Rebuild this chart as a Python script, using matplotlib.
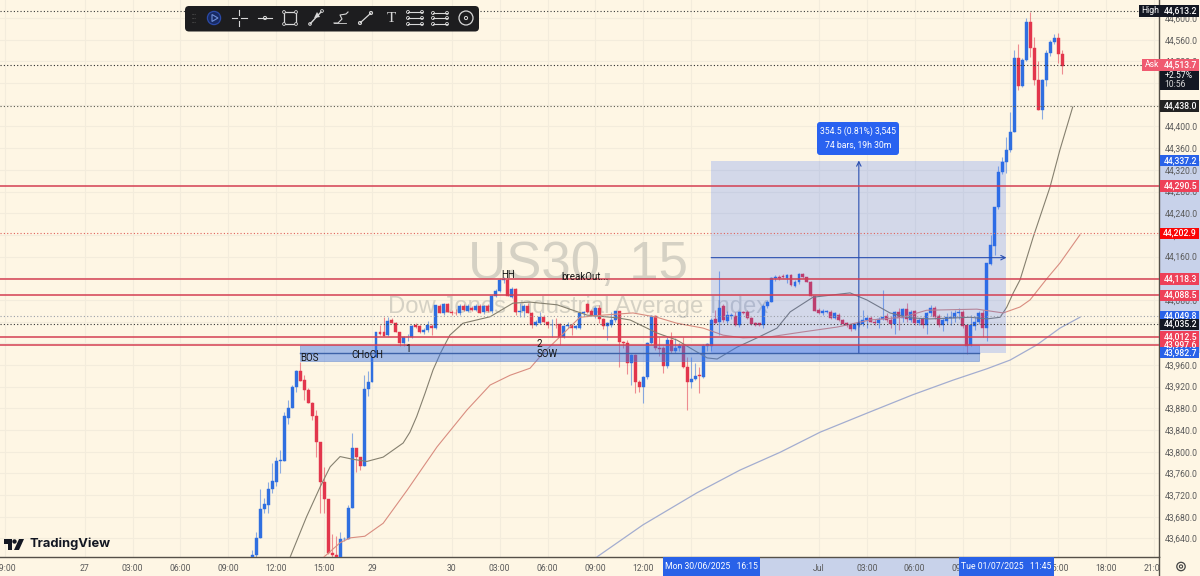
import numpy as np
import matplotlib
matplotlib.use("Agg")
import matplotlib.pyplot as plt
from matplotlib.patches import Rectangle, FancyBboxPatch, Circle, Polygon

plt.rcParams['font.family'] = ['Roboto', 'DejaVu Sans']

opens = [43603,43609,43641,43694,43702,43731,43745,43782,43783,43863,43880,43919,43948,43932,43914,43890,43866,43817,43745,43712,
         43614,43609,43603,43638,43638,43697,43806,43790,43774,43915,43928,43975,44021,44020,44015,44043,44037,44021,44001,44011,
         44011,44033,44032,44021,44024,44032,44028,44069,44055,44072,44058,44056,44055,44069,44060,44066,44061,44069,44058,44069,
         44060,44087,44097,44117,44117,44086,44101,44058,44060,44069,44056,44034,44038,44049,44039,44033,44034,44035,44011,44032,
         44033,44029,44029,44055,44072,44060,44050,44066,44044,44032,44034,44043,44060,44003,44000,43963,43978,43929,43920,43938,
         44000,44050,43992,43991,43958,44006,43985,43992,43995,43957,43929,43934,43941,43938,43995,43995,44044,44040,44068,44042,
         44050,44051,44033,44058,44058,44046,44037,44037,44034,44068,44077,44120,44123,44124,44120,44126,44106,44114,44127,44122,
         44114,44087,44061,44055,44058,44058,44046,44053,44043,44037,44034,44026,44034,44036,44043,44046,44040,44037,44045,44050,
         44043,44036,44058,44047,44063,44043,44060,44037,44044,44034,44055,44066,44050,44033,44041,44047,44047,44055,44058,44033,
         43997,44032,44040,44056,44028,44147,44180,44251,44316,44335,44356,44390,44526,44475,44523,44592,44544,44486,44430,44485,
         44535,44555,44563,44533]
highs = [43619,43652,43732,43714,43745,43779,43791,43803,43874,43895,43923,43951,43966,43941,43917,43892,43877,43817,43772,43713,
         43649,43644,43652,43642,43702,43835,43806,43791,43941,43948,43978,44021,44034,44048,44048,44046,44040,44021,44013,44018,
         44034,44037,44034,44028,44042,44036,44071,44072,44074,44075,44062,44064,44072,44072,44072,44069,44072,44073,44070,44073,
         44090,44100,44120,44122,44121,44103,44102,44074,44072,44074,44058,44043,44058,44052,44041,44044,44046,44038,44033,44040,
         44033,44034,44058,44060,44075,44063,44068,44070,44046,44040,44058,44060,44060,44005,44006,43980,43980,43932,43940,44002,
         44053,44053,44012,43995,44012,44020,44009,44000,44012,43975,43975,43963,43957,43998,44000,44046,44061,44134,44072,44060,
         44056,44058,44060,44060,44061,44048,44040,44038,44072,44080,44122,44126,44126,44128,44128,44128,44116,44130,44129,44123,
         44115,44088,44065,44063,44062,44061,44058,44055,44045,44039,44036,44036,44042,44061,44052,44050,44044,44048,44098,44056,
         44050,44060,44066,44066,44074,44062,44062,44046,44048,44058,44070,44068,44054,44047,44055,44060,44062,44066,44062,44033,
         44052,44050,44060,44061,44148,44200,44252,44328,44344,44380,44427,44541,44552,44526,44600,44612,44566,44520,44488,44541,
         44560,44570,44572,44541]
lows = [43603,43606,43641,43686,43686,43723,43736,43760,43782,43852,43880,43911,43931,43895,43889,43858,43791,43686,43686,43612,
        43605,43603,43603,43636,43638,43697,43763,43766,43774,43902,43928,43975,44015,44013,44013,44037,44021,43995,43995,44005,
        44009,44028,44019,44018,44020,44015,44026,44055,44053,44058,44052,44052,44052,44060,44058,44060,44059,44055,44054,44058,
        44055,44085,44095,44112,44087,44084,44052,44049,44049,44055,44029,44032,44036,44038,44028,44011,44028,43997,44009,44028,
        44015,44027,44027,44050,44056,44052,44047,44037,44026,44007,44030,44040,43956,43991,43943,43923,43909,43911,43889,43935,
        43998,43988,43977,43946,43955,43982,43983,43985,43955,43877,43917,43932,43908,43936,43985,43985,44035,44015,44040,44038,
        44045,44031,44030,44054,44045,44034,44032,44032,44028,44066,44076,44115,44116,44120,44112,44106,44104,44110,44120,44113,
        44087,44060,44054,44053,44055,44045,44044,44041,44035,44030,44023,44024,44030,44031,44029,44039,44033,44028,44043,44040,
        44028,44018,44025,44040,44040,44040,44034,44033,44029,44017,44050,44045,44030,44023,44035,44034,44040,44045,44029,43981,
        43995,44025,44036,44012,44005,44145,44163,44248,44313,44314,44353,44389,44467,44472,44520,44529,44477,44430,44413,44474,
        44530,44553,44517,44496]
closes = [43609,43641,43694,43703,43732,43746,43782,43785,43865,43880,43920,43948,43931,43913,43889,43865,43817,43745,43712,43614,
          43609,43603,43638,43639,43697,43806,43790,43774,43915,43928,43975,44021,44017,44013,44042,44037,44021,44001,44011,44012,
          44031,44030,44021,44024,44034,44028,44071,44055,44072,44058,44056,44055,44069,44061,44068,44062,44068,44056,44068,44060,
          44087,44097,44117,44118,44087,44101,44058,44060,44068,44056,44034,44040,44049,44039,44033,44034,44033,44011,44031,44033,
          44028,44031,44055,44057,44058,44052,44066,44044,44032,44038,44043,44060,44003,44000,43964,43978,43929,43920,43938,44000,
          44050,43991,43989,43958,44006,43985,43991,43995,43957,43929,43934,43940,43939,43995,43998,44043,44038,44066,44043,44052,
          44052,44033,44058,44056,44046,44035,44034,44034,44068,44077,44120,44123,44120,44122,44126,44108,44114,44127,44122,44114,
          44087,44060,44056,44060,44059,44046,44055,44043,44036,44033,44026,44035,44038,44043,44046,44040,44037,44045,44049,44043,
          44036,44058,44047,44063,44044,44058,44037,44043,44033,44055,44066,44049,44033,44043,44048,44049,44055,44058,44031,43995,
          44033,44040,44056,44028,44148,44181,44251,44316,44335,44357,44390,44526,44475,44523,44592,44544,44486,44430,44486,44536,
          44555,44563,44533,44512]

ma_mid_bars = [9.4,13.6,17,19.5,22,25.2,28.7,32.8,37.8,39.5,41.2,43.3,45.3,47.3,49.5,52.8,59.6,65.3,69.6,76.4,83.9,91.4,94.7,101.4,106.4,110.5,114,116.5,
               121.5,126.5,131.5,134.8,140.5,149.8,154,159.8,164.8,169.8,179.9,184.1,187.4,189.1,190.7,192.4,195.7,199.9,202.4,205.6]
ma_mid = [43604,43680,43735,43772,43791,43786,43782,43790,43816,43836,43865,43908,43951,43984,44015,44037,44049,44074,44076,44071,44052,44047,44043,44019,44006,43988,43973,43971,
          43993,44010,44028,44058,44085,44093,44080,44056,44047,44045,44048,44045,44048,44067,44093,44117,44196,44288,44357,44436]
ma_slow_bars = [17.7,22,24.5,28.2,32.8,38.8,46.3,53.8,59.6,64.6,69.6,72.9,77.1,82.1,87.9,95.4,101.4,106.4,113,118,123,129.8,138,146.6,154.8,163,169,181.6,188.2,192.4,194.9,199.2,202.4,207.4]
ma_slow = [43604,43632,43641,43644,43668,43729,43809,43877,43923,43941,43954,43982,44012,44048,44052,44056,44048,44037,44028,44015,44010,44012,44021,44030,44043,44048,44061,44063,44056,44067,44080,44120,44148,44200]
ma_long_bars = [86.4,97.9,111.4,122.2,132.3,142.3,154,165.5,175.6,184.1,189.9,196.6,202.4,207.4]
ma_long = [43606,43665,43724,43766,43799,43836,43871,43905,43932,43953,43969,43997,44028,44048]

x_tick_bars = [-62,-42,-30,-18,-6,6,18,30,50,62,74,86,98,110,142,154,166,178,190,202,214,226]
x_tick_labels = ['09:00','27','03:00','06:00','09:00','12:00','15:00','29','30','03:00','06:00','09:00','12:00','15:00','Jul','03:00','06:00','09:00','12:00','15:00','18:00','21:00']
y_ticks = list(range(43640, 44640, 40))

red_levels = [44290.5,44118.3,44088.5,44012.5,43997.6]
dotted_levels = [(44613.2,'#3a3a3a'),(44513.7,'#2a2a2a'),(44438.0,'#5a5a50'),(44202.9,'#e0605a'),(44049.8,'#9a9fa8'),(44035.2,'#333333')]
badge_values = [44613.2,44513.7,44438.0,44337.2,44290.5,44202.9,44118.3,44088.5,44049.8,44035.2,44012.5,43997.6,43982.7]
badge_colors = ['#131722','#f05a70','#222222','#2962e8','#ee4058','#fa0505','#ee4058','#ee4058','#2962e8','#131722','#ee4058','#ee4058','#2962e8']

BG = '#fef6e4'
UP = '#2f6fe0'
DN = '#e2364c'
W, H = 1200, 576
A = 1159.3

fig = plt.figure(figsize=(12, 5.76), dpi=100, facecolor=BG)
ax = fig.add_axes([0, 19/H, A/W, 557/H], facecolor=BG)
ax.set_xlim(-63.23, 227.3)
ax.set_ylim(43605.7, 44633.4)
ax.set_axisbelow(True)
ax.grid(True, color='#f3ecdc', lw=0.8)
ax.yaxis.tick_right()
ax.set_yticks(y_ticks)
ax.set_yticklabels([f'{v:,.1f}' for v in y_ticks], fontsize=6.2, color='#5a5a5a')
ax.set_xticks(x_tick_bars)
ax.set_xticklabels(x_tick_labels, fontsize=6.2, color='#5a5a5a')
ax.tick_params(axis='y', length=0, pad=4.3)
ax.tick_params(axis='x', length=0, pad=5)
for s in ['top', 'left']:
    ax.spines[s].set_visible(False)
for s in ['right', 'bottom']:
    ax.spines[s].set_color('#555048')
    ax.spines[s].set_linewidth(1.0)

tx = ax.get_xaxis_transform()
ty = ax.get_yaxis_transform()

ax.text(578/A, 0.524, 'US30, 15', transform=ax.transAxes, fontsize=38, color='#d5d1c4',
        ha='center', va='center', family='Liberation Sans', zorder=1)
ax.text(578/A, 0.449, 'Dow Jones Industrial Average Index', transform=ax.transAxes, fontsize=17.2, color='#d5d1c4',
        ha='center', va='center', family='Liberation Sans', zorder=1)

bars = np.arange(len(closes))
o, h, l, c = map(np.array, (opens, highs, lows, closes))
colors = [UP if ci >= oi else DN for oi, ci in zip(o, c)]
ax.vlines(bars, l, h, colors=colors, lw=0.8, alpha=0.55, zorder=2)
ax.bar(bars, np.abs(c - o), bottom=np.minimum(o, c), width=0.74, color=colors, edgecolor=colors, lw=0.3, zorder=3)

ax.plot(ma_mid_bars, ma_mid, color='#85806f', lw=0.8, zorder=4)
ax.plot(ma_slow_bars, ma_slow, color='#d98d80', lw=0.8, zorder=4)
ax.plot(ma_long_bars, ma_long, color='#a3add0', lw=0.9, zorder=4)

# order block zone
zone_start, zone_end, zone_top, zone_bottom, zone_mid = 12, 182, 43997.6, 43967, 43982.7
ax.add_patch(Rectangle((zone_start, zone_bottom), zone_end - zone_start, zone_top - zone_bottom,
                       facecolor='#3a75e8', edgecolor='#5c82cc', lw=0.7, alpha=0.45, zorder=5))
ax.plot([zone_start, zone_end], [zone_mid, zone_mid], color='#3d62a8', lw=1.0, zorder=5)

# measure
m_start, m_end, m_low, m_high = 115, 189, 43982.7, 44337.2
ax.add_patch(Rectangle((m_start, m_low), m_end - m_start, m_high - m_low, facecolor='#2962ff', alpha=0.2, lw=0, zorder=6))
m_cx, m_cy = 152, 44158
ax.annotate('', xy=(m_end, m_cy), xytext=(m_start, m_cy), arrowprops=dict(arrowstyle='->', color='#2a4fb0', lw=0.8, shrinkA=0, shrinkB=0, mutation_scale=8), zorder=7)
ax.annotate('', xy=(m_cx, m_high), xytext=(m_cx, m_low), arrowprops=dict(arrowstyle='->', color='#2a4fb0', lw=0.8, shrinkA=0, shrinkB=0, mutation_scale=8), zorder=7)

for v in red_levels:
    ax.axhline(v, color='#d43f52', lw=1.1, zorder=7)
for v, col in dotted_levels:
    ax.axhline(v, color=col, lw=0.8, ls=(0, (1, 2)), zorder=7)

for txt, k, v in [('BOS', 14.3, 43972), ('CHoCH', 28.8, 43978), ('1', 39, 43990), ('HH', 64, 44126),
                  ('breakOut...', 83.4, 44122), ('2', 72, 43999), ('SOW', 74, 43980)]:
    ax.text(k, v, txt, fontsize=7, color='#151515', ha='center', va='center', zorder=8)

# right and bottom bands under the axis
ax.add_patch(Rectangle((1, m_low), 40.7/A, m_high - m_low, transform=ty, facecolor='#c8d2ea', lw=0, clip_on=False, zorder=0.2))
ax.add_patch(Rectangle((m_start, -19/557), m_end - m_start, 19/557, transform=tx, facecolor='#c8d2ea', lw=0, clip_on=False, zorder=0.2))

# price badges
bh = 21.0
for v, col in zip(badge_values, badge_colors):
    ax.add_patch(Rectangle((1 + 0.7/A, v - bh/2), 39/A, bh, transform=ty, facecolor=col, lw=0, clip_on=False, zorder=9))
    ax.text(1 + 37.7/A, v, f'{v:,.1f}', transform=ty, fontsize=6.2, color='white', ha='right', va='center',
            fontweight='medium', clip_on=False, zorder=10)
ax.add_patch(Rectangle((1139/A, badge_values[0] - bh/2), 21/A, bh, transform=ty, facecolor='#131722', lw=0, zorder=9, clip_on=False))
ax.text(1141/A, badge_values[0], 'High', transform=ty, fontsize=6.2, color='white', ha='left', va='center', clip_on=False, zorder=10)
ax.add_patch(Rectangle((1142/A, badge_values[1] - bh/2), 18/A, bh, transform=ty, facecolor='#f05a70', lw=0, clip_on=False, zorder=9))
ax.text(1144.5/A, badge_values[1], 'Ask', transform=ty, fontsize=6.2, color='white', ha='left', va='center', clip_on=False, zorder=10)
ax.add_patch(Rectangle((1 + 0.7/A, 44467), 39/A, 36, transform=ty, facecolor='#131722', lw=0, clip_on=False, zorder=9))
ax.text(1 + 5/A, 44495, '+2.57%', transform=ty, fontsize=6.2, color='white', ha='left', va='center', clip_on=False, zorder=10)
ax.text(1 + 5/A, 44477, '10:56', transform=ty, fontsize=6.2, color='#d8d8d8', ha='left', va='center', clip_on=False, zorder=10)

# date badges
for start, end, centre, label in [(102.9, 127.2, 115, 'Mon 30/06/2025   16:15'), (177.1, 200.9, 189, 'Tue 01/07/2025   11:45')]:
    ax.add_patch(Rectangle((start, -19/557), end - start, 19/557, transform=tx, facecolor='#2962e8', lw=0, clip_on=False, zorder=9))
    ax.text(centre, -9.5/557, label, transform=tx, fontsize=6.2, color='white', ha='center', va='center', clip_on=False, zorder=10)

# overlay in pixel space: toolbar, logo, corner, measure label
ov = fig.add_axes([0, 0, 1, 1], facecolor='none', zorder=5)
ov.set_xlim(0, W)
ov.set_ylim(H, 0)
ov.axis('off')

ov.add_patch(Rectangle((1159.5, 557.5), 40.5, 18.5, facecolor=BG, lw=0))
ov.plot([1159.3, 1159.3], [557, 576], color='#555048', lw=1.0)
ov.add_patch(Circle((1181, 566.5), 4.2, facecolor='none', edgecolor='#444', lw=0.9))
ov.add_patch(Circle((1181, 566.5), 1.6, facecolor='none', edgecolor='#444', lw=0.8))

ov.add_patch(FancyBboxPatch((820, 125), 76, 27, boxstyle='round,pad=3,rounding_size=3', facecolor='#2962f0', edgecolor='none'))
ov.text(858, 131.5, '354.5 (0.81%) 3,545', fontsize=6.2, color='white', ha='center', va='center')
ov.text(858, 145.5, '74 bars, 19h 30m', fontsize=6.2, color='white', ha='center', va='center')

# TradingView logo
ov.add_patch(Polygon([(4, 539), (12, 539), (12, 550), (8, 550), (8, 544), (4, 544)], facecolor='#131722', lw=0))
ov.add_patch(Circle((14.5, 541.5), 2.2, facecolor='#131722', lw=0))
ov.add_patch(Polygon([(19, 539), (24, 539), (19, 550), (14, 550)], facecolor='#131722', lw=0))
ov.text(29, 544, 'TradingView', fontsize=9.3, fontweight='bold', color='#131722', ha='left', va='center', family='Inter')

# toolbar
ov.add_patch(FancyBboxPatch((188, 9), 288, 19.5, boxstyle='round,pad=3,rounding_size=4', facecolor='#1d1d1f', edgecolor='none'))
ic = '#d8d8d8'
for yy in (14, 18, 22):
    ov.plot([192, 195], [yy, yy], color='#555', lw=0.8, ls=(0, (1, 1)))
ov.add_patch(Circle((214, 18), 6.6, facecolor='#172a63', edgecolor='#2b4aa8', lw=0.9))
ov.add_patch(Polygon([(212, 14.5), (212, 21.5), (218, 18)], facecolor='none', edgecolor='#6f8fd8', lw=0.8))
ov.plot([232, 237], [18, 18], color=ic, lw=0.8); ov.plot([241, 247], [18, 18], color=ic, lw=0.8)
ov.plot([239, 239], [10, 15], color=ic, lw=0.8); ov.plot([239, 239], [21, 26], color=ic, lw=0.8)
ov.plot([258, 272], [18, 18], color=ic, lw=0.8); ov.add_patch(Circle((265, 18), 1.6, facecolor='#1d1d1f', edgecolor=ic, lw=0.7))
ov.add_patch(Rectangle((284, 12), 12, 12, facecolor='none', edgecolor=ic, lw=0.9))
for px, py in [(284, 12), (296, 12), (284, 24), (296, 24)]:
    ov.add_patch(Circle((px, py), 1.4, facecolor='#1d1d1f', edgecolor=ic, lw=0.6))
ov.plot([310, 321], [24, 12], color=ic, lw=1.0)
ov.add_patch(Polygon([(317, 12), (320, 17), (314, 18)], facecolor=ic, lw=0))
ov.add_patch(Circle((310, 24), 1.4, facecolor='#1d1d1f', edgecolor=ic, lw=0.6)); ov.add_patch(Circle((322, 11), 1.4, facecolor='#1d1d1f', edgecolor=ic, lw=0.6))
ov.plot([334, 338, 342, 340, 346, 348], [23, 23, 19, 15, 14, 12], color=ic, lw=0.8)
ov.plot([334, 346], [23, 23], color=ic, lw=0.6)
ov.plot([360, 371], [23, 13], color=ic, lw=0.9)
ov.add_patch(Circle((360, 23), 1.6, facecolor='#1d1d1f', edgecolor=ic, lw=0.7)); ov.add_patch(Circle((371, 13), 1.6, facecolor='#1d1d1f', edgecolor=ic, lw=0.7))
ov.text(391, 18, 'T', fontsize=11, color=ic, ha='center', va='center', family='Liberation Serif')
for cx, rows in [(415, (12, 18, 24)), (440, (13, 18, 24))]:
    for r in rows:
        ov.plot([cx - 7, cx + 7], [r, r], color=ic, lw=0.8)
        ov.add_patch(Circle((cx - 7, r), 1.5, facecolor='#1d1d1f', edgecolor=ic, lw=0.6))
        ov.add_patch(Circle((cx + 7, r), 1.5, facecolor='#1d1d1f', edgecolor=ic, lw=0.6))
ov.add_patch(Circle((466, 18), 7, facecolor='none', edgecolor=ic, lw=0.9))
ov.add_patch(Circle((466, 18), 1.6, facecolor='none', edgecolor=ic, lw=0.7))

fig.savefig('out.png', dpi=100, facecolor=BG)
